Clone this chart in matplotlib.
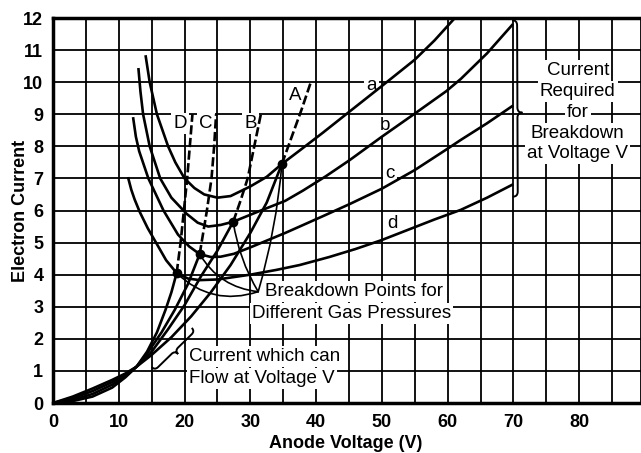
import numpy as np
import matplotlib
matplotlib.use('Agg')
import matplotlib.pyplot as plt
from matplotlib.path import Path
from matplotlib.patches import PathPatch

plt.rcParams['font.family'] = ['Liberation Sans', 'DejaVu Sans']

# current required for breakdown (curves a..d, one per gas pressure)
a_v = [14.1, 14.7, 15.8, 17.5, 18.6, 20.0, 21.5, 23.0, 25.0, 27.0, 30.0, 32.5, 34.8, 37.5, 41.0, 45.0, 50.0, 55.0, 58.0, 61.1]
a_i = [10.8, 10.0, 9.0, 8.0, 7.5, 7.0, 6.7, 6.5, 6.4, 6.45, 6.75, 7.05, 7.45, 7.87, 8.42, 9.07, 9.88, 10.7, 11.3, 12.0]
b_v = [13.0, 13.3, 13.7, 14.7, 16.3, 18.0, 20.3, 22.0, 23.6, 25.5, 27.4, 31.0, 35.3, 38.0, 41.5, 45.1, 50.0, 55.0, 59.8, 62.0, 66.0, 69.8]
b_i = [10.4, 9.7, 9.0, 8.0, 7.0, 6.4, 5.9, 5.62, 5.5, 5.55, 5.65, 5.95, 6.3, 6.62, 7.07, 7.57, 8.3, 9.02, 9.72, 10.1, 10.9, 11.78]
c_v = [12.2, 12.6, 13.1, 14.5, 16.8, 19.0, 20.7, 22.3, 24.0, 25.5, 27.5, 30.0, 35.3, 37.5, 41.0, 45.1, 50.0, 55.0, 59.8, 62.0, 66.0, 69.8]
c_i = [8.87, 8.3, 7.85, 7.0, 6.0, 5.25, 4.88, 4.64, 4.55, 4.56, 4.65, 4.85, 5.3, 5.5, 5.82, 6.2, 6.68, 7.26, 7.9, 8.2, 8.72, 9.25]
d_v = [11.45, 11.9, 12.4, 13.2, 14.4, 15.8, 17.2, 18.8, 20.5, 22.3, 25.0, 30.0, 34.0, 37.5, 42.0, 46.0, 50.0, 54.0, 58.0, 62.0, 66.0, 69.8]
d_i = [7.0, 6.65, 6.35, 5.95, 5.45, 4.95, 4.45, 4.05, 3.88, 3.83, 3.85, 4.0, 4.15, 4.3, 4.55, 4.8, 5.08, 5.4, 5.72, 6.02, 6.4, 6.8]

# current which can flow at voltage V (A..D), solid up to breakdown
A_v = [0, 3, 6, 9, 11, 12.7, 15, 18, 21, 24, 27, 30, 32.5, 34.8]
A_i = [0, 0.2, 0.45, 0.72, 0.92, 1.13, 1.5, 2.05, 2.7, 3.45, 4.3, 5.3, 6.25, 7.45]
B_v = [0, 3, 6, 9, 11, 12.7, 15, 17.5, 20, 22.5, 25, 27.4]
B_i = [0, 0.15, 0.37, 0.65, 0.88, 1.13, 1.6, 2.3, 3.05, 3.95, 4.75, 5.65]
C_v = [0, 3, 6, 9, 11, 12.7, 14.5, 16.5, 18.5, 20.5, 22.3]
C_i = [0, 0.1, 0.28, 0.57, 0.83, 1.13, 1.6, 2.2, 2.9, 3.7, 4.64]
D_v = [0, 3, 6, 9, 11, 12.7, 14.3, 15.8, 17.1, 18.0, 18.8]
D_i = [0, 0.06, 0.2, 0.48, 0.8, 1.13, 1.6, 2.2, 2.9, 3.45, 4.05]

# dashed continuation above breakdown
A_dash_v = [34.8, 36.3, 37.8, 39.2]
A_dash_i = [7.45, 8.3, 9.15, 10.0]
B_dash_v = [27.4, 28.5, 29.6, 30.6, 31.6]
B_dash_i = [5.65, 6.3, 7.0, 8.0, 9.0]
C_dash_v = [22.3, 23.4, 24.1, 24.5, 24.8]
C_dash_i = [4.64, 6.0, 7.0, 8.0, 9.0]
D_dash_v = [18.8, 19.4, 19.9, 20.4, 20.8, 21.2]
D_dash_i = [4.05, 5.0, 6.0, 7.0, 8.0, 9.0]

# breakdown points (A-a, B-b, C-c, D-d)
bp_v = [34.8, 27.4, 22.3, 18.8]
bp_i = [7.45, 5.65, 4.64, 4.05]
bp_rad = [0.05, -0.1, -0.25, -0.3]

x_ticks = [0, 10, 20, 30, 40, 50, 60, 70, 80]
y_ticks = list(range(13))

fig = plt.figure(figsize=(6.41, 4.53), dpi=100)
ax = fig.add_axes([53 / 641, 1 - 403 / 453, 588 / 641, 385 / 453])
ax.set_xlim(0, 89.4)
ax.set_ylim(0, 12)

ax.set_xticks(x_ticks)
ax.set_xticks(np.arange(5, 90, 10), minor=True)
ax.set_yticks(y_ticks)
ax.tick_params(which='both', length=0)
ax.tick_params(axis='x', pad=8)
ax.tick_params(axis='y', pad=7)
for lab in ax.get_xticklabels() + ax.get_yticklabels():
    lab.set_fontsize(13)
    lab.set_fontweight('bold')
ax.grid(which='both', color='black', lw=1.3)
ax.set_axisbelow(True)
for s in ['left', 'bottom', 'top']:
    ax.spines[s].set_linewidth(2.5)
ax.spines['right'].set_linewidth(1.3)

lw = 1.9
for v, i in [(a_v, a_i), (b_v, b_i), (c_v, c_i), (d_v, d_i),
             (A_v, A_i), (B_v, B_i), (C_v, C_i), (D_v, D_i)]:
    ax.plot(v, i, color='black', lw=lw, zorder=4)
for v, i in [(A_dash_v, A_dash_i), (B_dash_v, B_dash_i),
             (C_dash_v, C_dash_i), (D_dash_v, D_dash_i)]:
    ax.plot(v, i, color='black', lw=lw, dashes=(3.5, 1.3), zorder=4)
ax.plot(bp_v, bp_i, 'o', color='black', ms=6, zorder=5)

# pointers from the label to the breakdown points
for v, i, r in zip(bp_v, bp_i, bp_rad):
    ax.annotate('', xy=(v, i), xytext=(31.2, 3.47),
                arrowprops=dict(arrowstyle='-', connectionstyle='arc3,rad=%s' % r,
                                lw=1.2, color='black', shrinkA=0, shrinkB=0),
                zorder=4)


def label(x, y, s, size=13.5, pad=1.5):
    ax.text(x, y, s, fontsize=size, ha='center', va='center', zorder=3,
            bbox=dict(facecolor='white', edgecolor='none', pad=pad))


label(48.4, 9.9, 'a')
label(50.5, 8.66, 'b')
label(51.2, 7.15, 'c')
label(51.6, 5.6, 'd')
label(36.8, 9.6, 'A')
label(30.05, 8.72, 'B')
label(23.25, 8.72, 'C')
label(19.3, 8.72, 'D')

label(45.8, 3.47, 'Breakdown Points for')
label(45.4, 2.79, 'Different Gas Pressures')
label(32.2, 1.44, 'Current which can')
label(31.8, 0.77, 'Flow at Voltage V')
for y, s in zip([10.37, 9.72, 9.07, 8.41, 7.79],
                ['Current', 'Required', 'for', 'Breakdown', 'at Voltage V']):
    label(79.8, y, s)


def brace(p1, p2, width, tip=0.5, flip=False):
    t = ax.transData
    d1 = t.transform(p1)
    d2 = t.transform(p2)
    vec = d2 - d1
    L = np.hypot(*vec)
    u = vec / L
    n = np.array([-u[1], u[0]])
    if flip:
        n = -n
    r = width / 2
    m = tip * L
    local = [(0, 0), (0, r), (r, r), (m - r, r), (m, r), (m, 2 * r),
             (m, r), (m + r, r), (L - r, r), (L, r), (L, 0)]
    codes = [Path.MOVETO, Path.CURVE3, Path.CURVE3, Path.LINETO, Path.CURVE3, Path.CURVE3,
             Path.CURVE3, Path.CURVE3, Path.LINETO, Path.CURVE3, Path.CURVE3]
    pts = np.array([d1 + s * u + q * n for s, q in local])
    pts = t.inverted().transform(pts)
    ax.add_patch(PathPatch(Path(pts, codes), fill=False, lw=1.4, color='black',
                           zorder=4, clip_on=False))


brace((69.8, 11.93), (69.9, 6.43), 10, tip=0.524)
brace((15.0, 1.12), (21.1, 2.34), 9, flip=True)

ax.text(0.497, -0.104, 'Anode Voltage (V)', transform=ax.transAxes, ha='center',
        va='center', fontsize=13, fontweight='bold')
ax.text(-0.056, 0.5, 'Electron Current', transform=ax.transAxes, ha='center',
        va='center', rotation=90, fontsize=13, fontweight='bold')

fig.savefig('out.png', dpi=100)
